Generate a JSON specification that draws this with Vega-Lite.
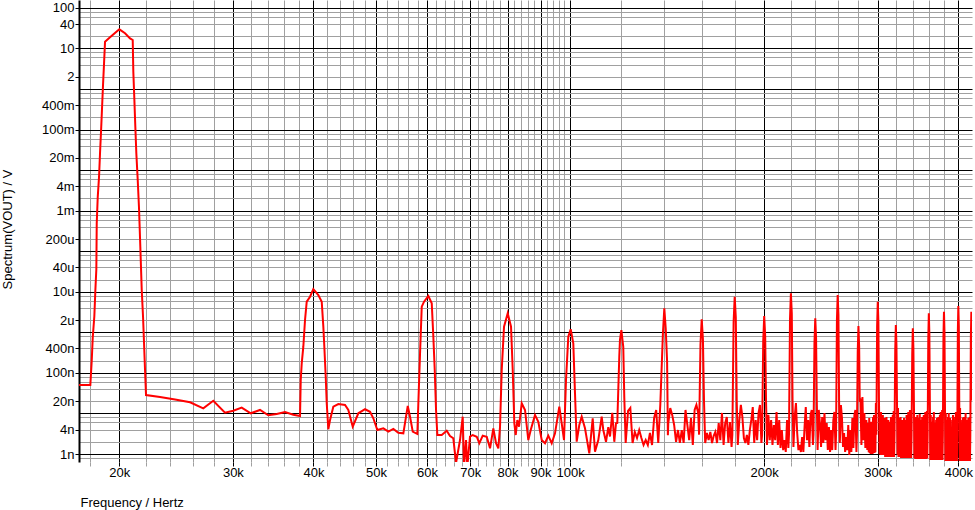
{
"$schema": "https://vega.github.io/schema/vega-lite/v6.json",
"width": 893, "height": 462,
"autosize": {"type": "none"},
"padding": {"left": 79, "top": 0, "right": 3, "bottom": 48},
"background": "white",
"config": {"view": {"stroke": null}, "font": "Liberation Sans"},
"data": {"values": [
{"f":17200,"v":5e-8},{"f":18034,"v":5e-8},{"f":18126,"v":2.1e-7},{"f":18189,"v":7.4e-7},{"f":18293,"v":2.5e-6},{"f":18359,"v":1.06e-5},{"f":18424,"v":3.6e-5},{"f":18450,"v":4.9e-4},{"f":18517,"v":2.2e-3},{"f":18603,"v":6.9e-3},{"f":18668,"v":0.026},{"f":18735,"v":0.089},{"f":18802,"v":0.335},{"f":18869,"v":1.26},{"f":18938,"v":4.3},{"f":19005,"v":14.7},{"f":19346,"v":18.9},{"f":20000,"v":29.7},{"f":20412,"v":23.7},{"f":20780,"v":17.8},{"f":20980,"v":16.2},{"f":21025,"v":2.68},{"f":21100,"v":0.59},{"f":21176,"v":0.118},{"f":21252,"v":0.026},{"f":21358,"v":5.7e-3},{"f":21457,"v":1.15e-3},{"f":21557,"v":1.29e-4},{"f":21666,"v":1.11e-5},{"f":21767,"v":2.43e-6},{"f":21845,"v":5.4e-7},{"f":21923,"v":1.18e-7},{"f":22000,"v":2.85e-8},
{"f":23128,"v":2.55e-8},{"f":24406,"v":2.21e-8},{"f":25746,"v":1.88e-8},{"f":26992,"v":1.34e-8},{"f":27972,"v":2.06e-8},{"f":29166,"v":1.04e-8},{"f":30044,"v":1.17e-8},{"f":30960,"v":1.39e-8},{"f":31972,"v":1.01e-8},{"f":33052,"v":1.22e-8},{"f":34046,"v":9.0e-9},{"f":35082,"v":9.7e-9},{"f":36138,"v":1.09e-8},{"f":37226,"v":9.3e-9},{"f":38128,"v":8.65e-9},
{"f":38224,"v":6.68e-8},{"f":38360,"v":1.72e-7},{"f":38580,"v":4.43e-7},{"f":38814,"v":2.02e-6},{"f":39050,"v":5.7e-6},{"f":39514,"v":7.57e-6},{"f":39982,"v":1.17e-5},{"f":40702,"v":8.34e-6},{"f":41200,"v":5.7e-6},{"f":41436,"v":1.38e-6},{"f":41584,"v":4.43e-7},{"f":41792,"v":8.06e-8},{"f":41942,"v":1.78e-8},{"f":42182,"v":4.07e-9},{"f":42440,"v":6.89e-9},{"f":42942,"v":1.47e-8},{"f":43716,"v":1.71e-8},{"f":44774,"v":1.62e-8},{"f":45304,"v":1.22e-8},{"f":46022,"v":4.71e-9},{"f":46952,"v":1.01e-8},{"f":48090,"v":1.27e-8},{"f":48956,"v":1.1e-8},{"f":49536,"v":7.6e-9},{"f":50248,"v":3.91e-9},{"f":51336,"v":4.3e-9},{"f":52262,"v":3.55e-9},{"f":53204,"v":4.14e-9},{"f":54162,"v":3.35e-9},{"f":55138,"v":3.24e-9},{"f":56012,"v":1.53e-8},{"f":56474,"v":8.3e-9},{"f":57020,"v":3.55e-9},{"f":57964,"v":3.11e-9},
{"f":58172,"v":1.78e-8},{"f":58526,"v":3.04e-7},{"f":58882,"v":4.29e-6},{"f":59366,"v":5.7e-6},{"f":60286,"v":7.88e-6},{"f":61022,"v":5.21e-6},{"f":61372,"v":7.81e-7},{"f":61678,"v":1.18e-7},{"f":61966,"v":1.22e-8},{"f":62254,"v":2.94e-9},{"f":63236,"v":2.94e-9},{"f":64376,"v":3.75e-9},{"f":65138,"v":2.78e-9},{"f":65910,"v":2.44e-9},{"f":66548,"v":6.0e-10},{"f":67504,"v":2.21e-9},{"f":68158,"v":8.3e-9},{"f":68476,"v":4.86e-10},{"f":68968,"v":2.21e-9},{"f":69288,"v":4.86e-10},{"f":69960,"v":2.67e-9},{"f":70640,"v":2.94e-9},{"f":71656,"v":2.67e-9},{"f":72326,"v":1.84e-9},{"f":73210,"v":2.83e-9},{"f":74262,"v":2.67e-9},{"f":75142,"v":1.38e-9},{"f":76032,"v":4.3e-9},{"f":76768,"v":1.84e-9},{"f":77400,"v":1.38e-9},
{"f":77872,"v":4.71e-9},{"f":78344,"v":1.18e-7},{"f":78990,"v":1.38e-6},{"f":80040,"v":2.95e-6},{"f":80988,"v":1.38e-6},{"f":81482,"v":1.18e-7},{"f":81948,"v":5.72e-9},{"f":82360,"v":2.94e-9},{"f":82830,"v":6.89e-9},{"f":83336,"v":4.71e-9},{"f":84142,"v":1.78e-8},{"f":85140,"v":1.22e-8},{"f":86146,"v":2.21e-9},{"f":86888,"v":3.91e-9},{"f":88232,"v":9.16e-9},{"f":89276,"v":6.26e-9},{"f":90366,"v":2.21e-9},{"f":91436,"v":1.84e-9},{"f":92520,"v":2.83e-9},{"f":93650,"v":1.84e-9},{"f":94760,"v":3.24e-9},{"f":96228,"v":1.47e-8},{"f":97056,"v":5.72e-9},{"f":97856,"v":2.21e-9},
{"f":98556,"v":6.68e-8},{"f":99366,"v":7.81e-7},{"f":100222,"v":1.19e-6},{"f":101156,"v":5.37e-7},{"f":101772,"v":3.14e-8},{"f":102392,"v":2.01e-9},{"f":103346,"v":5.19e-9},{"f":104236,"v":8.3e-9},{"f":105472,"v":4.3e-9},{"f":107104,"v":1.04e-9},{"f":108414,"v":7.6e-9},{"f":109306,"v":1.14e-9},{"f":110602,"v":2.21e-9},
{"f":111950,"v":8.3e-9},{"f":112592,"v":3.91e-9},{"f":113684,"v":2.0e-9},{"f":114622,"v":4.6e-9},{"f":115318,"v":2.7e-9},{"f":116268,"v":1.04e-8},{"f":117102,"v":2.0e-9},{"f":117814,"v":5.7e-9},{"f":118358,"v":5.8e-9},
{"f":119206,"v":2.5e-7},{"f":119500,"v":6.5e-7},{"f":120100,"v":1.14e-6},{"f":120918,"v":4.35e-7},{"f":121350,"v":2.55e-8},{"f":121960,"v":1.87e-9},
{"f":123000,"v":1.15e-8},{"f":124000,"v":1.36e-8},{"f":125000,"v":1.87e-9},{"f":126000,"v":3.49e-9},{"f":127000,"v":2.48e-9},{"f":128000,"v":3.91e-9},{"f":129000,"v":2.48e-9},{"f":130000,"v":1.67e-9},{"f":131000,"v":2.21e-9},{"f":132000,"v":1.67e-9},{"f":133000,"v":3.3e-9},{"f":134000,"v":1.67e-9},{"f":135000,"v":7.72e-9},{"f":136000,"v":1.22e-8},{"f":137000,"v":1.87e-9},{"f":138000,"v":1.62e-8},
{"f":139300,"v":9.4e-7},{"f":140000,"v":3.92e-6},{"f":140700,"v":1.25e-6},{"f":141400,"v":1.9e-7},{"f":141800,"v":2.9e-9},
{"f":142000,"v":5.8e-9},{"f":143000,"v":1.36e-8},{"f":144000,"v":9.2e-9},{"f":145000,"v":5.2e-9},{"f":146000,"v":2.0e-9},{"f":147000,"v":3.9e-9},{"f":148000,"v":1.87e-9},{"f":149000,"v":3.9e-9},{"f":150000,"v":1.87e-9},{"f":151000,"v":1.22e-8},{"f":152000,"v":5.2e-9},{"f":153000,"v":2.2e-9},{"f":154000,"v":7.7e-9},{"f":155000,"v":1.67e-9},{"f":156000,"v":1.22e-8},{"f":157000,"v":1.62e-8},{"f":158000,"v":1.03e-8},
{"f":158500,"v":3.0e-9},{"f":159300,"v":5.0e-7},{"f":160000,"v":2.1e-6},{"f":160700,"v":6.7e-7},{"f":161300,"v":2.1e-8},
{"f":162000,"v":1.87e-9},{"f":163000,"v":3.3e-9},{"f":164000,"v":2.2e-9},{"f":165000,"v":3.5e-9},{"f":166000,"v":1.87e-9},{"f":167000,"v":2.8e-9},{"f":168000,"v":3.5e-9},{"f":169000,"v":1.87e-9},{"f":170000,"v":5.8e-9},{"f":171000,"v":2.2e-9},{"f":172000,"v":1.03e-8},{"f":173000,"v":1.67e-9},{"f":174000,"v":5.8e-9},{"f":175000,"v":8.2e-9},{"f":176000,"v":1.87e-9},{"f":177000,"v":6.15e-9},{"f":178000,"v":1.49e-9},
{"f":178500,"v":3.0e-9},{"f":179300,"v":1.8e-6},{"f":180000,"v":7.57e-6},{"f":180700,"v":2.4e-6},{"f":181300,"v":2.1e-8},
{"f":182000,"v":1.67e-9},{"f":183000,"v":6.9e-9},{"f":184000,"v":1.62e-8},{"f":185000,"v":8.2e-9},{"f":186000,"v":2.48e-9},{"f":187000,"v":1.87e-9},{"f":188000,"v":2.94e-9},{"f":189000,"v":1.67e-9},{"f":190000,"v":3.9e-9},{"f":191000,"v":6.9e-9},{"f":192000,"v":1.44e-8},{"f":193000,"v":1.87e-9},{"f":194000,"v":6.9e-9},{"f":195000,"v":2.2e-9},{"f":196000,"v":1.03e-8},{"f":197000,"v":1.62e-8},{"f":198000,"v":1.87e-9},
{"f":198500,"v":3.0e-9},{"f":199300,"v":6.1e-7},{"f":200000,"v":2.53e-6},{"f":200700,"v":8.1e-7},{"f":201300,"v":2.1e-8},
{"f":202000,"v":1.67e-9},{"f":203000,"v":9.2e-9},{"f":204000,"v":2.2e-9},{"f":205000,"v":6.9e-9},{"f":206000,"v":1.67e-9},{"f":207000,"v":5.2e-9},{"f":208000,"v":2.2e-9},{"f":209000,"v":1.09e-8},{"f":210000,"v":1.67e-9},{"f":211000,"v":6.9e-9},{"f":212000,"v":1.41e-9},{"f":213000,"v":3.9e-9},{"f":214000,"v":1.25e-9},{"f":215000,"v":2.2e-9},{"f":216000,"v":1.12e-9},{"f":217000,"v":6.9e-9},{"f":218000,"v":1.41e-9},
{"f":218500,"v":3.0e-9},{"f":219300,"v":2.2e-6},{"f":220000,"v":9.18e-6},{"f":220700,"v":2.9e-6},{"f":221300,"v":2.1e-8},
{"f":222000,"v":1.49e-9},{"f":223000,"v":8.2e-9},{"f":224000,"v":1.81e-8},{"f":225000,"v":3.3e-9},{"f":226000,"v":1.25e-9},{"f":227000,"v":1.67e-9},{"f":228000,"v":1.12e-9},{"f":229000,"v":2.63e-9},{"f":230000,"v":1.12e-9},{"f":231000,"v":4.6e-9},{"f":232000,"v":1.44e-8},{"f":233000,"v":2.2e-9},{"f":234000,"v":6.9e-9},{"f":235000,"v":1.49e-9},{"f":236000,"v":9.2e-9},{"f":237000,"v":1.22e-8},{"f":238000,"v":1.67e-9},
{"f":238500,"v":3.0e-9},{"f":239300,"v":5.3e-7},{"f":240000,"v":2.22e-6},{"f":240700,"v":7.1e-7},{"f":241300,"v":2.1e-8},
{"f":242000,"v":1.25e-9},{"f":243000,"v":1.22e-8},{"f":244000,"v":5.8e-9},{"f":245000,"v":1.49e-9},{"f":246000,"v":8.2e-9},{"f":247000,"v":1.87e-9},{"f":248000,"v":1.03e-8},{"f":249000,"v":2.2e-9},{"f":250000,"v":5.8e-9},{"f":251000,"v":1.25e-9},{"f":252000,"v":4.6e-9},{"f":253000,"v":1.12e-9},{"f":254000,"v":3.9e-9},{"f":255000,"v":1.25e-9},{"f":256000,"v":6.9e-9},{"f":257000,"v":1.09e-8},{"f":258000,"v":1.25e-9},
{"f":258500,"v":3.0e-9},{"f":259300,"v":2.0e-6},{"f":260000,"v":8.34e-6},{"f":260700,"v":2.7e-6},{"f":261300,"v":2.1e-8},
{"f":262000,"v":1.87e-9},{"f":263000,"v":1.62e-8},{"f":264000,"v":7.7e-9},{"f":265000,"v":1.49e-9},{"f":266000,"v":3.3e-9},{"f":267000,"v":1.12e-9},{"f":268000,"v":2.63e-9},{"f":269000,"v":1.25e-9},{"f":270000,"v":5.2e-9},{"f":271000,"v":9.5e-10},{"f":272000,"v":3.9e-9},{"f":273000,"v":1.12e-9},{"f":274000,"v":7.7e-9},{"f":275000,"v":1.41e-9},{"f":276000,"v":9.2e-9},{"f":277000,"v":1.22e-8},{"f":278000,"v":1.12e-9},
{"f":278500,"v":3.0e-9},{"f":279300,"v":3.4e-7},{"f":280000,"v":1.43e-6},{"f":280700,"v":4.6e-7},{"f":281300,"v":2.1e-8},
{"f":282000,"v":2.15e-8},{"f":283000,"v":1.67e-9},{"f":284000,"v":2.55e-8},{"f":285000,"v":2.2e-9},{"f":286000,"v":1.03e-8},{"f":287000,"v":1.41e-9},{"f":288000,"v":6.9e-9},{"f":289000,"v":1.25e-9},{"f":290000,"v":5.8e-9},{"f":290500,"v":1.1e-9},{"f":291000,"v":7.7e-9},{"f":291500,"v":1.06e-9},{"f":292000,"v":5.2e-9},{"f":292500,"v":1.0e-9},{"f":293000,"v":6.2e-9},{"f":293500,"v":1.06e-9},{"f":294000,"v":3.9e-9},{"f":294500,"v":1.0e-9},{"f":295000,"v":8.2e-9},{"f":295500,"v":1.1e-9},{"f":296000,"v":9.2e-9},{"f":296500,"v":1.06e-9},{"f":297000,"v":6.9e-9},{"f":297500,"v":1.1e-9},{"f":298000,"v":1.81e-8},
{"f":298500,"v":3.0e-9},{"f":299300,"v":1.4e-6},{"f":300000,"v":5.7e-6},{"f":300700,"v":1.8e-6},{"f":301300,"v":2.1e-8},
{"f":302000,"v":1.0e-9},{"f":302500,"v":8.2e-9},{"f":303000,"v":9.5e-10},{"f":303500,"v":1.09e-8},{"f":304000,"v":1.06e-9},{"f":304500,"v":6.9e-9},{"f":305000,"v":9.5e-10},{"f":305500,"v":9.2e-9},{"f":306000,"v":1.0e-9},{"f":306500,"v":5.2e-9},{"f":307000,"v":9.5e-10},{"f":307500,"v":7.7e-9},{"f":308000,"v":8.4e-10},{"f":308500,"v":6.2e-9},{"f":309000,"v":9.5e-10},{"f":309500,"v":8.2e-9},{"f":310000,"v":8.4e-10},{"f":310500,"v":4.6e-9},{"f":311000,"v":9.5e-10},{"f":311500,"v":6.9e-9},{"f":312000,"v":8.4e-10},{"f":312500,"v":3.9e-9},{"f":313000,"v":9.5e-10},{"f":313500,"v":6.2e-9},{"f":314000,"v":8.4e-10},{"f":314500,"v":8.2e-9},{"f":315000,"v":9.5e-10},{"f":315500,"v":5.8e-9},{"f":316000,"v":8.4e-10},{"f":316500,"v":9.2e-9},{"f":317000,"v":9.5e-10},{"f":317500,"v":1.15e-8},{"f":318000,"v":8.4e-10},
{"f":318500,"v":3.0e-9},{"f":319300,"v":3.6e-7},{"f":320000,"v":1.52e-6},{"f":320700,"v":4.9e-7},{"f":321300,"v":2.1e-8},
{"f":322000,"v":9.5e-10},{"f":322500,"v":1.36e-8},{"f":323000,"v":8.4e-10},{"f":323500,"v":7.7e-9},{"f":324000,"v":8.4e-10},{"f":324500,"v":5.2e-9},{"f":325000,"v":8.4e-10},{"f":325500,"v":8.2e-9},{"f":326000,"v":8.0e-10},{"f":326500,"v":3.9e-9},{"f":327000,"v":8.4e-10},{"f":327500,"v":6.9e-9},{"f":328000,"v":8.0e-10},{"f":328500,"v":5.2e-9},{"f":329000,"v":8.4e-10},{"f":329500,"v":7.7e-9},{"f":330000,"v":8.0e-10},{"f":330500,"v":4.6e-9},{"f":331000,"v":8.4e-10},{"f":331500,"v":6.9e-9},{"f":332000,"v":8.0e-10},{"f":332500,"v":9.2e-9},{"f":333000,"v":8.4e-10},{"f":333500,"v":5.8e-9},{"f":334000,"v":8.0e-10},{"f":334500,"v":1.09e-8},{"f":335000,"v":8.4e-10},{"f":335500,"v":6.9e-9},{"f":336000,"v":8.0e-10},{"f":336500,"v":1.22e-8},{"f":337000,"v":8.4e-10},{"f":337500,"v":9.2e-9},{"f":338000,"v":8.0e-10},
{"f":338500,"v":3.0e-9},{"f":339300,"v":3.0e-7},{"f":340000,"v":1.26e-6},{"f":340700,"v":4.0e-7},{"f":341300,"v":2.1e-8},
{"f":342000,"v":8.0e-10},{"f":342500,"v":5.2e-9},{"f":343000,"v":7.5e-10},{"f":343500,"v":8.2e-9},{"f":344000,"v":8.0e-10},{"f":344500,"v":6.2e-9},{"f":345000,"v":7.5e-10},{"f":345500,"v":9.2e-9},{"f":346000,"v":8.0e-10},{"f":346500,"v":4.6e-9},{"f":347000,"v":7.5e-10},{"f":347500,"v":7.7e-9},{"f":348000,"v":8.0e-10},{"f":348500,"v":9.7e-9},{"f":349000,"v":7.5e-10},{"f":349500,"v":6.9e-9},{"f":350000,"v":8.0e-10},{"f":350500,"v":5.2e-9},{"f":351000,"v":7.5e-10},{"f":351500,"v":8.2e-9},{"f":352000,"v":8.0e-10},{"f":352500,"v":6.2e-9},{"f":353000,"v":7.5e-10},{"f":353500,"v":9.2e-9},{"f":354000,"v":8.0e-10},{"f":354500,"v":7.7e-9},{"f":355000,"v":7.5e-10},{"f":355500,"v":1.09e-8},{"f":356000,"v":8.0e-10},{"f":356500,"v":6.9e-9},{"f":357000,"v":7.5e-10},{"f":357500,"v":1.15e-8},{"f":358000,"v":8.0e-10},
{"f":358500,"v":3.0e-9},{"f":359300,"v":7.1e-7},{"f":360000,"v":2.95e-6},{"f":360700,"v":9.4e-7},{"f":361300,"v":2.1e-8},
{"f":362000,"v":7.1e-10},{"f":362500,"v":9.2e-9},{"f":363000,"v":7.1e-10},{"f":363500,"v":6.2e-9},{"f":364000,"v":7.1e-10},{"f":364500,"v":4.6e-9},{"f":365000,"v":7.1e-10},{"f":365500,"v":8.2e-9},{"f":366000,"v":7.1e-10},{"f":366500,"v":1.09e-8},{"f":367000,"v":7.1e-10},{"f":367500,"v":5.8e-9},{"f":368000,"v":7.1e-10},{"f":368500,"v":3.5e-9},{"f":369000,"v":7.1e-10},{"f":369500,"v":6.9e-9},{"f":370000,"v":7.1e-10},{"f":370500,"v":7.7e-9},{"f":371000,"v":7.1e-10},{"f":371500,"v":5.2e-9},{"f":372000,"v":7.1e-10},{"f":372500,"v":8.2e-9},{"f":373000,"v":7.1e-10},{"f":373500,"v":6.2e-9},{"f":374000,"v":7.1e-10},{"f":374500,"v":9.2e-9},{"f":375000,"v":7.1e-10},{"f":375500,"v":1.09e-8},{"f":376000,"v":7.1e-10},{"f":376500,"v":7.7e-9},{"f":377000,"v":7.1e-10},{"f":377500,"v":1.22e-8},{"f":378000,"v":7.1e-10},
{"f":378500,"v":3.0e-9},{"f":379300,"v":7.8e-7},{"f":380000,"v":3.23e-6},{"f":380700,"v":1.0e-6},{"f":381300,"v":2.1e-8},
{"f":382000,"v":6.7e-10},{"f":382500,"v":1.03e-8},{"f":383000,"v":6.7e-10},{"f":383500,"v":6.9e-9},{"f":384000,"v":6.7e-10},{"f":384500,"v":5.2e-9},{"f":385000,"v":6.7e-10},{"f":385500,"v":8.2e-9},{"f":386000,"v":6.7e-10},{"f":386500,"v":1.03e-8},{"f":387000,"v":6.7e-10},{"f":387500,"v":6.2e-9},{"f":388000,"v":6.7e-10},{"f":388500,"v":7.7e-9},{"f":389000,"v":6.7e-10},{"f":389500,"v":4.6e-9},{"f":390000,"v":6.7e-10},{"f":390500,"v":3.9e-9},{"f":391000,"v":6.7e-10},{"f":391500,"v":6.9e-9},{"f":392000,"v":6.7e-10},{"f":392500,"v":9.2e-9},{"f":393000,"v":6.7e-10},{"f":393500,"v":8.2e-9},{"f":394000,"v":6.7e-10},{"f":394500,"v":6.9e-9},{"f":395000,"v":6.7e-10},{"f":395500,"v":5.8e-9},{"f":396000,"v":6.7e-10},{"f":396500,"v":1.09e-8},{"f":397000,"v":6.7e-10},{"f":397500,"v":9.2e-9},{"f":398000,"v":6.7e-10},
{"f":398500,"v":3.0e-9},{"f":399300,"v":1.07e-6},{"f":400000,"v":4.47e-6},{"f":400700,"v":1.43e-6},{"f":401300,"v":2.1e-8},
{"f":402000,"v":6.7e-10},{"f":402500,"v":1.36e-8},{"f":403000,"v":6.7e-10},{"f":403500,"v":6.9e-9},{"f":404000,"v":6.7e-10},{"f":404500,"v":4.4e-9},{"f":405000,"v":6.7e-10},{"f":405500,"v":5.8e-9},{"f":406000,"v":6.7e-10},{"f":406500,"v":7.7e-9},{"f":407000,"v":6.7e-10},{"f":407500,"v":8.2e-9},{"f":408000,"v":6.7e-10},{"f":408500,"v":3.9e-9},{"f":409000,"v":6.7e-10},{"f":409500,"v":5.2e-9},{"f":410000,"v":6.7e-10},{"f":410500,"v":1.03e-8},{"f":411000,"v":6.7e-10},{"f":411500,"v":6.9e-9},{"f":412000,"v":6.7e-10},{"f":412500,"v":5.2e-9},{"f":413000,"v":6.7e-10},{"f":413500,"v":4.6e-9},{"f":414000,"v":6.7e-10},{"f":414500,"v":7.7e-9},{"f":415000,"v":6.7e-10},{"f":415500,"v":6.2e-9},{"f":416000,"v":6.7e-10},{"f":416500,"v":8.2e-9},{"f":417000,"v":6.7e-10},
{"f":417500,"v":3.0e-9},{"f":418300,"v":7.8e-7},{"f":419000,"v":3.23e-6},{"f":419700,"v":1.0e-6},{"f":420300,"v":2.1e-8}
]},
"mark": {"type": "line", "color": "#ff0000", "strokeWidth": 2, "clip": true},
"encoding": {
"x": {"field": "f", "type": "quantitative",
 "scale": {"type": "log", "domain": [17318, 420000], "nice": false},
 "axis": {
  "title": "Frequency / Hertz",
  "values": [18000,20000,22000,24000,26000,28000,30000,32000,34000,36000,38000,40000,42000,44000,46000,48000,50000,52000,54000,56000,58000,60000,62000,64000,66000,68000,70000,72000,74000,76000,78000,80000,82000,84000,86000,88000,90000,92000,94000,96000,98000,100000,120000,140000,160000,180000,200000,220000,240000,260000,280000,300000,320000,340000,360000,380000,400000],
  "labelExpr": "indexof([20000,30000,40000,50000,60000,70000,80000,90000,100000,200000,300000,400000], datum.value) >= 0 ? format(datum.value, '~s') : ''",
  "grid": true,
  "gridColor": {"condition": {"test": "indexof([20000,30000,40000,50000,60000,70000,80000,90000,100000,200000,300000,400000], datum.value) >= 0", "value": "#000000"}, "value": "#a0a0a0"},
  "gridOpacity": 1, "gridWidth": 1,
  "tickColor": {"condition": {"test": "indexof([20000,30000,40000,50000,60000,70000,80000,90000,100000,200000,300000,400000], datum.value) >= 0", "value": "#000000"}, "value": "#a0a0a0"},
  "tickSize": 4, "tickWidth": 1,
  "domain": false,
  "labelFont": "Liberation Sans", "labelFontSize": 13, "labelColor": "#000000",
  "labelPadding": 0, "labelOverlap": false, "labelFlush": false,
  "titleFont": "Liberation Sans", "titleFontSize": 13, "titleFontWeight": "normal", "titleColor": "#000000",
  "titleX": 1, "titleY": 44, "titleAlign": "left", "titleBaseline": "alphabetic", "titleAnchor": "start"
 }},
"y": {"field": "v", "type": "quantitative",
 "scale": {"type": "log", "domain": [6.35e-10, 157], "nice": false},
 "axis": {
  "title": "Spectrum(VOUT) / V",
  "values": [8e-10,1e-9,2e-9,4e-9,6e-9,8e-9,1e-8,2e-8,4e-8,6e-8,8e-8,1e-7,2e-7,4e-7,6e-7,8e-7,1e-6,2e-6,4e-6,6e-6,8e-6,1e-5,2e-5,4e-5,6e-5,8e-5,0.0001,0.0002,0.0004,0.0006,0.0008,0.001,0.002,0.004,0.006,0.008,0.01,0.02,0.04,0.06,0.08,0.1,0.2,0.4,0.6,0.8,1,2,4,6,8,10,20,40,60,80,100],
  "labelExpr": "indexof([100,40,10,2,0.4,0.1,0.02,0.004,0.001,0.0002,0.00004,0.00001,0.000002,4e-7,1e-7,2e-8,4e-9,1e-9], datum.value) >= 0 ? replace(replace(format(datum.value, '~s'), 'µ', 'u'), 'μ', 'u') : ''",
  "grid": true,
  "gridColor": {"condition": {"test": "indexof([1e-9,1e-8,1e-7,1e-6,1e-5,0.0001,0.001,0.01,0.1,1,10,100], datum.value) >= 0", "value": "#000000"}, "value": "#a0a0a0"},
  "gridOpacity": 1, "gridWidth": 1,
  "tickColor": {"condition": {"test": "indexof([100,40,10,2,0.4,0.1,0.02,0.004,0.001,0.0002,0.00004,0.00001,0.000002,4e-7,1e-7,2e-8,4e-9,1e-9], datum.value) >= 0", "value": "#000000"}, "value": "transparent"},
  "tickSize": 4, "tickWidth": 1,
  "domain": true, "domainColor": "#000000", "domainWidth": 2,
  "labelFont": "Liberation Sans", "labelFontSize": 13, "labelColor": "#000000",
  "labelPadding": 1, "labelOverlap": false, "labelFlush": false, "labelBaseline": "middle",
  "titleFont": "Liberation Sans", "titleFontSize": 13, "titleFontWeight": "normal", "titleColor": "#000000",
  "titleX": -67.5, "titleY": 229, "titleAngle": -90, "titleAlign": "center", "titleBaseline": "alphabetic"
 }}
}
}
